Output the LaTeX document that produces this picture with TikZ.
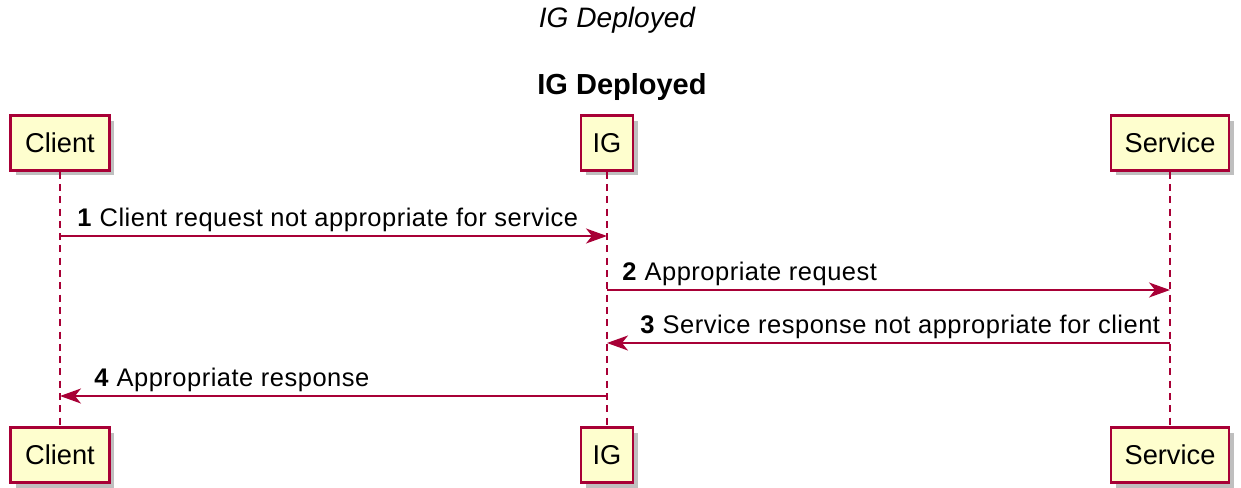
\documentclass[tikz,border=0pt]{standalone}
\usepackage{fontspec}
\setmainfont{Liberation Sans}
\newfontfamily\msgfont[LetterSpace=2]{Liberation Sans}
\usetikzlibrary{shadows,arrows.meta}
\definecolor{umlred}{HTML}{A80036}
\definecolor{umlfill}{HTML}{FEFECE}
\tikzset{
  part/.style={draw=umlred, fill=umlfill, line width=1.3pt, minimum height=1.1cm,
    inner sep=0pt, font=\fontsize{15.5}{18}\selectfont,
    drop shadow={shadow xshift=0.1cm, shadow yshift=-0.1cm, fill=black, opacity=0.25}},
  life/.style={umlred, line width=0.8pt, dash pattern=on 4pt off 3pt},
  msg/.style={umlred, line width=1pt, -{Stealth[length=0.42cm, width=0.3cm, inset=0.12cm]}},
  msglabel/.style={anchor=base west, inner sep=0pt, font=\msgfont\fontsize{14.5}{17}\selectfont}
}
\begin{document}
\begin{tikzpicture}[x=0.02cm, y=-0.02cm]
      \useasboundingbox (0,0) rectangle (1241,487);
      \node[font=\fontsize{16}{19}\selectfont\itshape] (title) at (617,20) {IG Deployed};
      \node[font=\fontsize{16.5}{19}\selectfont\bfseries] (subtitle) at (622,87) {IG Deployed};
      % participants
      \node[part, minimum width=1.98cm] (client) at (60,143) {Client};
      \node[part, minimum width=1.04cm] (ig) at (607,143) {IG};
      \node[part, minimum width=2.36cm] (service) at (1170,143) {Service};
      \node[part, minimum width=1.98cm] (clientb) at (60,455) {Client};
      \node[part, minimum width=1.04cm] (igb) at (607,455) {IG};
      \node[part, minimum width=2.36cm] (serviceb) at (1170,455) {Service};
      \draw[life] (client) -- (clientb);
      \draw[life] (ig) -- (igb);
      \draw[life] (service) -- (serviceb);
      % messages
      \coordinate (c1) at (60,236);  \coordinate (g1) at (607,236);
      \coordinate (g2) at (607,290); \coordinate (s2) at (1170,290);
      \coordinate (s3) at (1170,343); \coordinate (g3) at (607,343);
      \coordinate (g4) at (607,396); \coordinate (c4) at (60,396);
      \draw[msg] (c1) -- (g1);
      \draw[msg] (g2) -- (s2);
      \draw[msg] (s3) -- (g3);
      \draw[msg] (g4) -- (c4);
      \node[msglabel] (l1) at (77,226) {\textbf{1} Client request not appropriate for service};
      \node[msglabel] (l2) at (622,280) {\textbf{2} Appropriate request};
      \node[msglabel] (l3) at (640,333) {\textbf{3} Service response not appropriate for client};
      \node[msglabel] (l4) at (94,386) {\textbf{4} Appropriate response};
\end{tikzpicture}
\end{document}
